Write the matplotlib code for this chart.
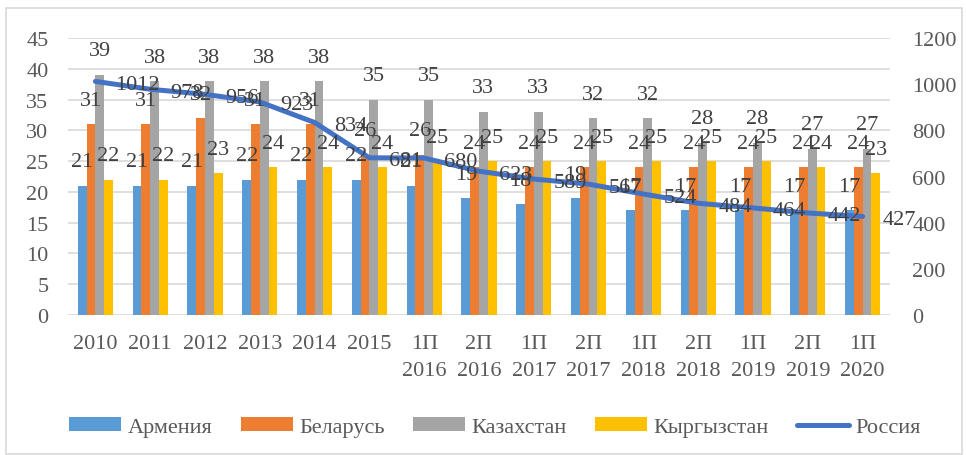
import matplotlib
matplotlib.use("Agg")
import matplotlib.pyplot as plt
import numpy as np
from matplotlib.patches import Rectangle, Patch
from matplotlib.lines import Line2D

categories = ["2010", "2011", "2012", "2013", "2014", "2015",
              "1П\n2016", "2П\n2016", "1П\n2017", "2П\n2017", "1П\n2018",
              "2П\n2018", "1П\n2019", "2П\n2019", "1П\n2020"]
armenia = [21, 21, 21, 22, 22, 22, 21, 19, 18, 19, 17, 17, 17, 17, 17]
belarus = [31, 31, 32, 31, 31, 26, 26, 24, 24, 24, 24, 24, 24, 24, 24]
kazakhstan = [39, 38, 38, 38, 38, 35, 35, 33, 33, 32, 32, 28, 28, 27, 27]
kyrgyzstan = [22, 22, 23, 24, 24, 24, 25, 25, 25, 25, 25, 25, 25, 24, 23]
russia = [1012, 978, 956, 923, 834, 681, 680, 623, 589, 567, 524, 484, 464, 442, 427]

bar_series = [("Армения", armenia, "#5B9BD5"),
              ("Беларусь", belarus, "#ED7D31"),
              ("Казахстан", kazakhstan, "#A5A5A5"),
              ("Кыргызстан", kyrgyzstan, "#FFC000")]
line_name = "Россия"
line_color = "#4472C4"

plt.rcParams['font.family'] = ['Liberation Serif', 'DejaVu Serif']
tick_color = "#595959"
label_color = "#404040"
fs = 16

fig = plt.figure(figsize=(9.66, 4.56), dpi=100)
ax = fig.add_axes([68/966, 1-316/456, (890-68)/966, (316-39)/456])
ax2 = ax.twinx()

x = np.arange(len(categories))
bw = 0.16
offsets = [-1.5*bw, -0.5*bw, 0.5*bw, 1.5*bw]
for (name, vals, col), off in zip(bar_series, offsets):
    ax.bar(x + off, vals, width=bw, color=col, zorder=2, label=name)

ax.set_xlim(-0.5, len(categories)-0.5)
ax.set_ylim(0, 45)
ax.set_yticks(np.arange(0, 46, 5))
ax2.set_ylim(0, 1200)
ax2.set_yticks(np.arange(0, 1201, 200))
ax.set_xticks(x)
ax.set_xticklabels(categories, linespacing=1.55)
ax.grid(axis='y', color='#D9D9D9', linewidth=1.2, zorder=0)
ax.set_axisbelow(True)
for a in (ax, ax2):
    for s in a.spines.values():
        s.set_visible(False)
ax.tick_params(axis='both', length=0, labelsize=fs, colors=tick_color)
ax.tick_params(axis='y', pad=14)
ax.tick_params(axis='x', pad=14)
ax2.tick_params(axis='y', length=0, labelsize=fs, colors=tick_color, pad=16)

ax2.plot(x, russia, color=line_color, linewidth=3.6, solid_capstyle='round',
         solid_joinstyle='round', zorder=3)

# bar labels
for (name, vals, col), off in zip(bar_series, offsets):
    for xi, v in zip(x, vals):
        ax2.annotate(str(v), xy=(xi + off, v), xycoords=ax.transData,
                     xytext=(0, 24), textcoords='offset pixels',
                     ha='center', va='center', fontsize=fs, color=label_color,
                     zorder=5, annotation_clip=False)
# line labels
for xi, v in zip(x, russia):
    ax2.annotate(str(v), xy=(xi, v), xytext=(20, -3), textcoords='offset pixels',
                 ha='left', va='center', fontsize=fs, color=label_color,
                 zorder=5, annotation_clip=False)

handles = [Patch(facecolor=c, edgecolor='none', label=n) for n, _, c in bar_series]
handles.append(Line2D([], [], color=line_color, linewidth=3.6,
                      solid_capstyle='round', label=line_name))
leg = fig.legend(handles=handles, loc='center', bbox_to_anchor=(495/966, 1-428/456),
                 ncol=5, frameon=False, fontsize=fs, handlelength=2.35,
                 handleheight=0.55, handletextpad=0.3, columnspacing=1.25,
                 labelcolor=tick_color, borderpad=0.1)

fig.patches.append(Rectangle((6/966, 0.002), (962-6)/966, 1-9/456-0.002,
                             transform=fig.transFigure, fill=False,
                             edgecolor='#D9D9D9', linewidth=1.2))

fig.savefig("out.png", dpi=100)
